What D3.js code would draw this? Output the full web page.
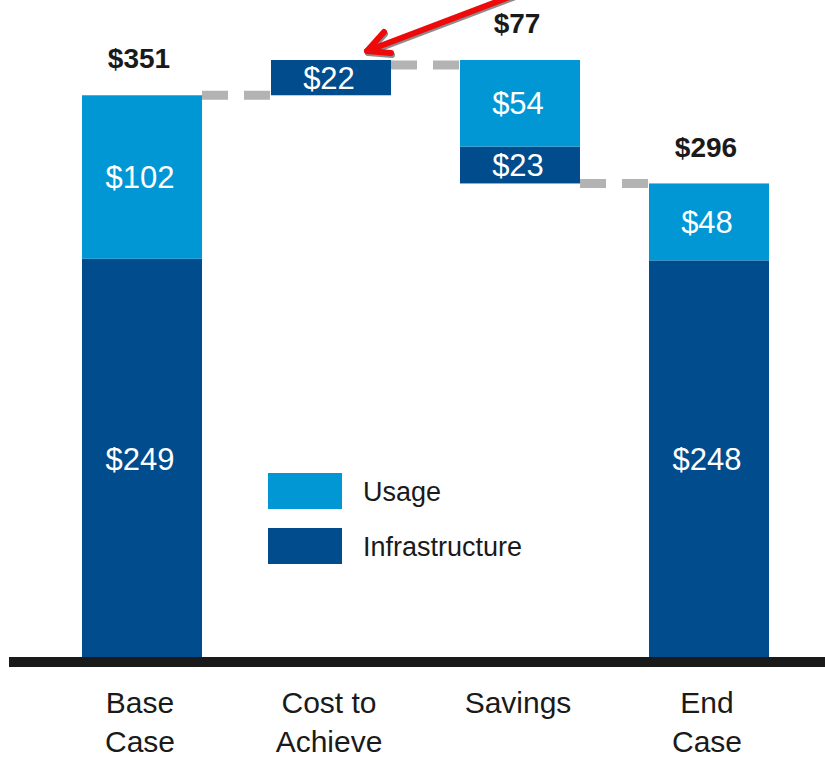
<!DOCTYPE html>
<html>
<head>
<meta charset="utf-8">
<script src="https://cdn.jsdelivr.net/npm/d3@7"></script>
<style>
  html, body { margin: 0; padding: 0; background: #fff; }
  svg { display: block; font-family: "Liberation Sans", Arial, sans-serif; }
</style>
</head>
<body>
<svg id="chart" width="825" height="757"></svg>
<script>
const categories = ["Base Case", "Cost to Achieve", "Savings", "End Case"];
const categoryLines = [["Base", "Case"], ["Cost to", "Achieve"], ["Savings"], ["End", "Case"]];
const stepKinds = ["total", "increase", "decrease", "total"];
const infrastructure = [249, 22, 23, 248];
const usage = [102, 0, 54, 48];
const totalLabels = ["$351", null, "$77", "$296"];
const seriesNames = ["Usage", "Infrastructure"];
const colors = { Usage: "#0097d4", Infrastructure: "#004c8d" };

const svg = d3.select("#chart");

const x = d3.scaleBand().domain(categories).range([82, 769]).paddingInner(0.365).paddingOuter(0);
const y = d3.scaleLinear().domain([0, 373]).range([658, 60]);

// compute waterfall bottoms
let running = 0;
const rows = categories.map((c, i) => {
  const sum = infrastructure[i] + usage[i];
  let bottom;
  if (stepKinds[i] === "total") { bottom = 0; running = sum; }
  else if (stepKinds[i] === "increase") { bottom = running; running += sum; }
  else { bottom = running - sum; running -= sum; }
  return { cat: c, bottom, top: bottom + sum, infra: infrastructure[i], usage: usage[i], label: totalLabels[i] };
});

// connectors
const conn = svg.append("g");
const maxTop = d3.max(rows, r => r.top);
for (let i = 0; i < rows.length - 1; i++) {
  const a = rows[i], b = rows[i + 1];
  const level = stepKinds[i] === "decrease" ? a.bottom : a.top;
  const x1 = x(a.cat) + x.bandwidth(), x2 = x(b.cat);
  let yy = y(level);
  if (level === maxTop) yy += 5;
  conn.append("line")
    .attr("x1", x1).attr("x2", x2).attr("y1", yy).attr("y2", yy)
    .attr("stroke", "#b3b3b3").attr("stroke-width", 9)
    .attr("stroke-dasharray", "26 16");
}

// bars
const bars = svg.append("g");
rows.forEach(r => {
  const segs = [
    { name: "Infrastructure", v0: r.bottom, v1: r.bottom + r.infra, val: r.infra },
    { name: "Usage", v0: r.bottom + r.infra, v1: r.bottom + r.infra + r.usage, val: r.usage }
  ];
  segs.forEach(s => {
    if (s.val <= 0) return;
    bars.append("rect")
      .attr("x", x(r.cat)).attr("width", x.bandwidth())
      .attr("y", y(s.v1)).attr("height", y(s.v0) - y(s.v1))
      .attr("fill", colors[s.name]);
    bars.append("text")
      .attr("x", x(r.cat) + x.bandwidth() / 2 - 2)
      .attr("y", (y(s.v0) + y(s.v1)) / 2)
      .attr("dy", "0.36em")
      .attr("text-anchor", "middle")
      .attr("fill", "#fff").attr("font-size", 31)
      .text("$" + s.val);
  });
  if (r.label) {
    svg.append("text")
      .attr("x", x(r.cat) + x.bandwidth() / 2 - 3)
      .attr("y", y(r.top) - 37)
      .attr("dy", "0.36em")
      .attr("text-anchor", "middle")
      .attr("fill", "#1a1a1a").attr("font-size", 28).attr("font-weight", "bold")
      .text(r.label);
  }
});

// baseline
svg.append("rect").attr("x", 9).attr("width", 816).attr("y", y(0) - 1).attr("height", 10).attr("fill", "#1a1a1a");

// category labels
categories.forEach((c, i) => {
  const t = svg.append("text")
    .attr("text-anchor", "middle").attr("fill", "#1a1a1a").attr("font-size", 30);
  categoryLines[i].forEach((ln, j) => {
    t.append("tspan").attr("x", x(c) + x.bandwidth() / 2 - 2).attr("y", 713 + j * 39).text(ln);
  });
});

// legend
const legend = svg.append("g").attr("transform", "translate(268,473)");
seriesNames.forEach((n, i) => {
  legend.append("rect").attr("x", 0).attr("y", i * 55).attr("width", 74).attr("height", 36).attr("fill", colors[n]);
  legend.append("text").attr("x", 95).attr("y", i * 55 + 18).attr("dy", "0.36em")
    .attr("font-size", 27).attr("fill", "#1a1a1a").text(n);
});

// red arrow annotation
const arrow = svg.append("g");
const tip = [367, 51];
const drawArrow = (g, dx, dy, color) => {
  g.append("line").attr("x1", 512 + dx).attr("y1", -4 + dy).attr("x2", tip[0] + dx).attr("y2", tip[1] + dy)
    .attr("stroke", color).attr("stroke-width", 6).attr("stroke-linecap", "round");
  g.append("path")
    .attr("d", `M${384 + dx},${32 + dy} L${tip[0] + dx},${tip[1] + dy} L${391 + dx},${53 + dy}`)
    .attr("fill", "none").attr("stroke", color).attr("stroke-width", 6)
    .attr("stroke-linecap", "round").attr("stroke-linejoin", "round");
};
drawArrow(arrow, 1, 2, "#8c8c8c");
drawArrow(arrow, 0, 0, "#ee0a0a");
</script>
</body>
</html>
